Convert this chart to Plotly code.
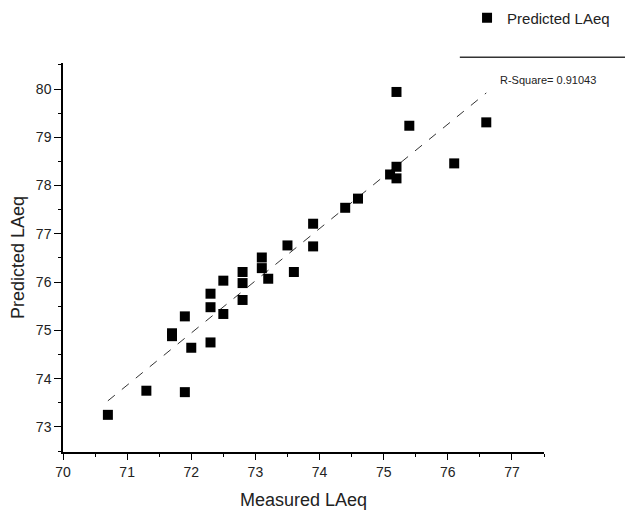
import plotly.graph_objects as go

measured = [70.7, 71.3, 71.9, 71.7, 71.7, 71.9, 72.0, 72.3, 72.3, 72.3,
            72.5, 72.5, 72.8, 72.8, 72.8, 73.1, 73.1, 73.2, 73.6, 73.5,
            73.9, 73.9, 74.4, 74.6, 75.1, 75.2, 75.2, 75.2, 75.4, 76.1, 76.6]
predicted = [73.25, 73.75, 73.72, 74.94, 74.88, 75.29, 74.64, 74.75, 75.48, 75.76,
             76.03, 75.34, 76.21, 75.98, 75.63, 76.51, 76.29, 76.07, 76.21, 76.76,
             77.21, 76.74, 77.54, 77.73, 78.23, 78.39, 78.15, 79.94, 79.24, 78.46, 79.31]
fit_x = [70.7, 76.6]
fit_y = [73.54, 79.92]
r_square_text = "R-Square= 0.91043"
x_ticks = [70, 71, 72, 73, 74, 75, 76, 77]
y_ticks = [73, 74, 75, 76, 77, 78, 79, 80]

FONT = "Arial, 'Liberation Sans', sans-serif"

fig = go.Figure()
fig.add_trace(go.Scatter(x=fit_x, y=fit_y, mode="lines",
                         line=dict(color="#333333", width=1, dash="dash"),
                         showlegend=False, hoverinfo="skip"))
fig.add_trace(go.Scatter(x=measured, y=predicted, mode="markers", name="Predicted LAeq",
                         marker=dict(symbol="square", size=10, color="black")))

fig.update_layout(
    width=625, height=505,
    margin=dict(l=55, r=89, t=55, b=61, autoexpand=False),
    paper_bgcolor="white", plot_bgcolor="white",
    font=dict(family=FONT, color="#222222"),
    legend=dict(x=0.84, y=1.158, xanchor="left", yanchor="top",
                font=dict(size=15, family=FONT, color="#222222"),
                bgcolor="rgba(0,0,0,0)"),
    xaxis=dict(range=[70, 77.5], tickvals=x_ticks, ticks="outside", ticklen=6,
               tickcolor="black", showline=True, linecolor="black", linewidth=1.5,
               showgrid=False, zeroline=False,
               tickfont=dict(size=14, color="#222222"),
               title=dict(text="Measured LAeq", font=dict(size=18, color="#222222"), standoff=15),
               minor=dict(dtick=0.5, ticks="outside", ticklen=3, tickcolor="black")),
    yaxis=dict(range=[72.48, 80.54], tickvals=y_ticks, ticks="outside", ticklen=7,
               tickcolor="black", showline=True, linecolor="black", linewidth=1.5,
               showgrid=False, zeroline=False,
               tickfont=dict(size=14, color="#222222"),
               title=dict(text="Predicted LAeq", font=dict(size=18, color="#222222"), standoff=8),
               minor=dict(dtick=0.5, ticks="outside", ticklen=3, tickcolor="black")),
)

fig.add_shape(type="line", xref="paper", yref="paper", x0=0.825, x1=1.2, y0=1.015, y1=1.015,
              line=dict(color="#333333", width=1.5))
fig.add_annotation(text=r_square_text, xref="paper", yref="paper", x=0.905, y=0.957,
                   xanchor="left", yanchor="middle", showarrow=False,
                   font=dict(size=11, family=FONT, color="#222222"))

fig.write_html("out.html")
